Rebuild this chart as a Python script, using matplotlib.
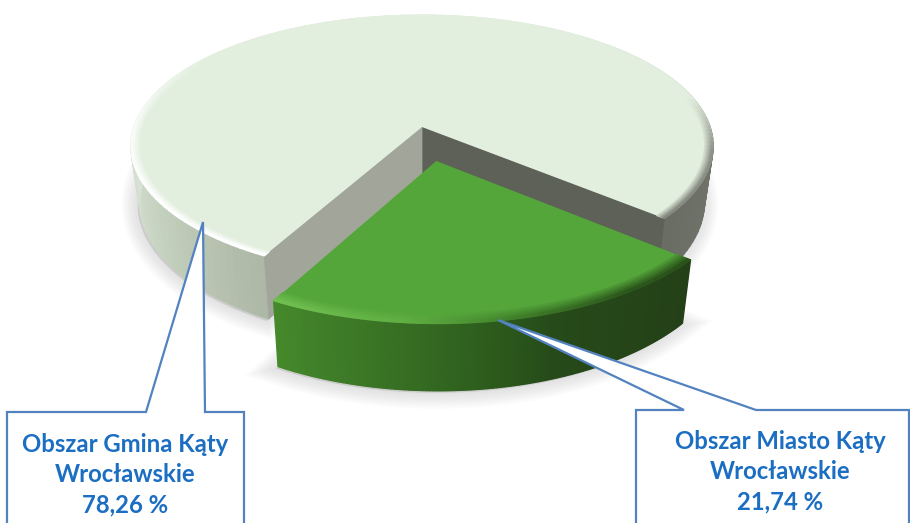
import numpy as np
import matplotlib
matplotlib.use('Agg')
import matplotlib.pyplot as plt
from matplotlib.collections import PolyCollection
from matplotlib.colors import to_rgb
from matplotlib.patches import Polygon

# Chart data
labels = ['Obszar Miasto Kąty\nWrocławskie\n21,74 %', 'Obszar Gmina Kąty\nWrocławskie\n78,26 %']
shares = [21.74, 78.26]

# Pie camera, in pixels of the 910 x 523 canvas
CX, CY = 422, 127
A, B, P = 288, 128, 0.145
WALL, SHRINK = 55, 0.03
START = -40.3
EXPLODE = 0.26


def project(u, v, z=0.0):
    '''Perspective map from the pie's ground plane to the canvas.'''
    w = 1 + P * v
    x = CX + A * u / w * (1 - SHRINK * z)
    y = CY - B * v / w + WALL * z / w
    return np.column_stack((x, y))


def ground(theta, r=1.0, off=(0.0, 0.0)):
    t = np.radians(theta)
    return off[0] + r * np.cos(t), off[1] + r * np.sin(t)


def ramp(theta, stops):
    '''Colour for each angle, from (angle, colour) stops.'''
    a = [s[0] for s in stops]
    c = np.array([to_rgb(s[1]) for s in stops])
    return np.column_stack([np.interp(theta, a, c[:, i]) for i in range(3)])


def strips(ax, xy_a, xy_b, colors, zorder):
    quads = [[xy_a[i], xy_a[i + 1], xy_b[i + 1], xy_b[i]] for i in range(len(xy_a) - 1)]
    pc = PolyCollection(quads, facecolors=colors[:-1], edgecolors=colors[:-1], linewidths=1.0, zorder=zorder)
    ax.add_collection(pc)


def draw_slice(ax, t0, t1, off, top, wall_stops, rim_stops, rim, faces, zorder):
    theta = np.linspace(t0, t1, 160)
    apex = ground(0, 0, off)

    # side wall
    u, v = ground(theta, 1, off)
    strips(ax, project(u, v), project(u, v, 1), ramp(theta, wall_stops), zorder)

    # cut faces
    for t, color in faces:
        ue, ve = ground(t, 1, off)
        corners = np.vstack((project(apex[0], apex[1]), project(ue, ve), project(ue, ve, 1), project(apex[0], apex[1], 1)))
        ax.add_patch(Polygon(corners, facecolor=color, edgecolor=color, lw=0.5, zorder=zorder + 1))

    # top and bevelled rim
    outline = np.vstack((project(apex[0], apex[1]), project(u, v)))
    ax.add_patch(Polygon(outline, facecolor=top, edgecolor='none', zorder=zorder + 2))
    rim_rgb = ramp(theta, rim_stops)
    radii = np.linspace(rim, 1.0, 6)
    for i in range(5):
        ua, va = ground(theta, radii[i], off)
        ub, vb = ground(theta, radii[i + 1], off)
        mix = (i + 1) / 5
        cols = np.array(to_rgb(top)) * (1 - mix) + rim_rgb * mix
        strips(ax, project(ua, va), project(ub, vb), cols, zorder + 3)


def callout(ax, points, zorder=10):
    ax.add_patch(Polygon(points, facecolor='white', edgecolor='#5282bf', lw=1.6, joinstyle='miter', zorder=zorder))


plt.rcParams['font.family'] = ['Lato', 'DejaVu Sans']
fig = plt.figure(figsize=(9.1, 5.23), dpi=100)
ax = fig.add_axes([0, 0, 1, 1])
ax.set_xlim(0, 910)
ax.set_ylim(523, 0)
ax.axis('off')

span_green = 360 * shares[0] / sum(shares)
span_big = 360 * shares[1] / sum(shares)
mid_green = START - span_green / 2
off_green = ground(mid_green, EXPLODE)

# soft shadow under both slices
big_t = np.linspace(START - span_green, START - span_green - span_big, 200)
green_t = np.linspace(START, START - span_green, 100)
u, v = ground(big_t)
big_base = np.vstack((project(u, v, 1), project(0, 0, 1)))
u, v = ground(green_t, 1, off_green)
green_base = np.vstack((project(u, v, 1), project(off_green[0], off_green[1], 1)))
for base in (big_base, green_base):
    for lw in range(2, 26, 3):
        ax.add_patch(Polygon(base + [-2, 2], facecolor='#808080', edgecolor='#808080', lw=lw, alpha=0.028, zorder=1))

# big slice
draw_slice(ax, START - span_green, START - span_green - span_big, (0, 0), '#e2efdf',
           wall_stops=[(-401, '#686c62'), (-375, '#6f7369'), (-360, '#7c8075'), (-300, '#dfe8dc'),
                       (-180, '#dbe5d7'), (-150, '#c8d4c2'), (-119, '#aeb8a6')],
           rim_stops=[(-401, '#85887e'), (-370, '#8f9288'), (-345, '#e2efdf'), (-215, '#e2efdf'),
                      (-185, '#f6faf5'), (-150, '#ffffff'), (-119, '#ffffff')],
           rim=0.972, faces=[(START, '#5e6157'), (START - span_green, '#a2a69a')], zorder=2)

# exploded slice
draw_slice(ax, START, START - span_green, off_green, '#54a63a',
           wall_stops=[(-119, '#458a2b'), (-103, '#3c7726'), (-85, '#2f611e'), (-70, '#264a19'), (-41, '#244018')],
           rim_stops=[(-119, '#72c052'), (-95, '#5fae42'), (-75, '#3d7a28'), (-55, '#2b561b'), (-41, '#2a521a')],
           rim=0.95, faces=[], zorder=7)

# callouts
callout(ax, [(7, 540), (7, 412), (146, 412), (203, 222), (205, 412), (244, 412), (244, 540)])
callout(ax, [(636, 540), (636, 410), (684, 410), (498, 320), (756, 410), (909, 410), (909, 540)])

for label, x, y in ((labels[1], 125, 475), (labels[0], 780, 471.5)):
    ax.text(x, y, label, ha='center', va='center', color='#1b6ec2', fontsize=17.2,
            fontweight='bold', linespacing=1.38, zorder=11)

fig.savefig('out.png', dpi=100)
